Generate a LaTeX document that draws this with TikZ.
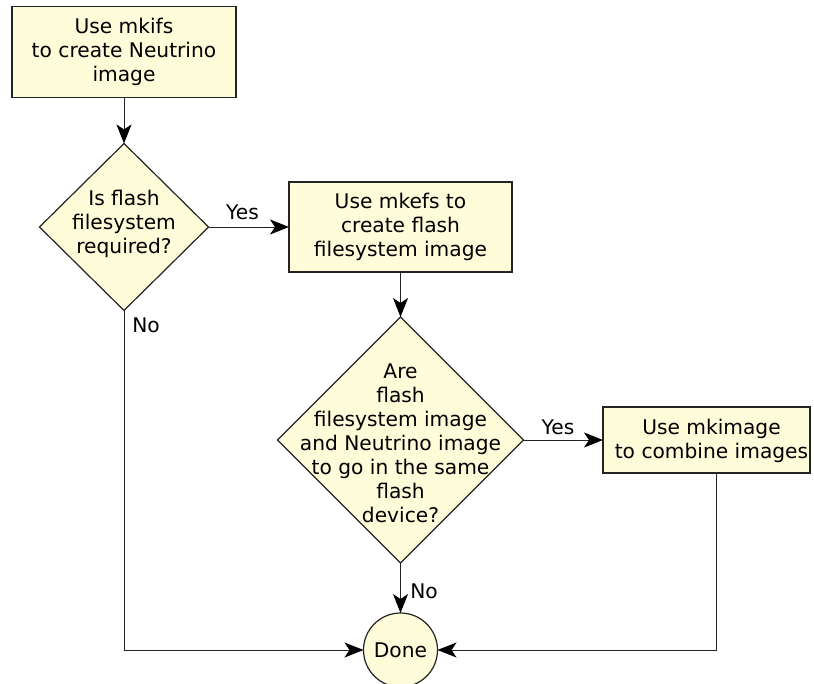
\documentclass[tikz,border=0pt]{standalone}
\usepackage{fontspec}
\setmainfont{DejaVu Sans}
\usetikzlibrary{shapes.geometric,arrows.meta}
\definecolor{boxfill}{RGB}{255,252,218}
\definecolor{edgec}{RGB}{35,35,35}
\begin{document}
\begin{tikzpicture}[x=1pt,y=-1pt,
  every node/.style={font=\fontsize{20.2}{24}\selectfont},
  proc/.style={draw=edgec, line width=1.6pt, fill=boxfill, inner sep=0pt, outer sep=0pt, align=center},
  dia/.style={diamond, draw=edgec, line width=1.2pt, fill=boxfill, inner sep=0pt, outer sep=0pt},
  term/.style={circle, draw=edgec, line width=1.2pt, fill=boxfill, inner sep=0pt, outer sep=0pt, minimum size=74pt},
  conn/.style={draw=edgec, line width=1pt, -{Stealth[length=19pt,width=15pt,inset=5pt,color=black]}},
  txt/.style={inner sep=0pt, align=center},
  lbl/.style={inner sep=0pt}
]
\useasboundingbox (0,0) rectangle (814,683);

% nodes
\node[proc, minimum width=224pt, minimum height=91pt] (b1) at (124,52) {Use mkifs\\to create Neutrino\\image};
\node[dia, minimum width=169pt, minimum height=167pt] (d1) at (124,227) {};
\node[txt] (t1) at (124,224) {Is flash\\filesystem\\required?};
\node[proc, minimum width=223pt, minimum height=90pt] (b2) at (400.5,227) {Use mkefs to\\create flash\\filesystem image};
\node[dia, minimum width=246pt, minimum height=246pt] (d2) at (400.5,440) {};
\node[txt] (t2) at (400.5,443) {Are\\flash\\filesystem image\\and Neutrino image\\to go in the same\\flash\\device?};
\node[proc, minimum width=207pt, minimum height=66pt] (b3) at (706.5,440) {};
\node[txt] (t3) at (711.5,441) {Use mkimage\\to combine images};
\node[term] (done) at (400.5,650) {Done};

% connectors
\draw[conn] (b1.south) -- (d1.north);
\draw[conn] (d1.east) -- (b2.west);
\draw[conn] (b2.south) -- (d2.north);
\draw[conn] (d2.east) -- (b3.west);
\draw[conn] (d2.south) -- (done.north);
\draw[conn] (d1.south) |- (done.west);
\coordinate (b3out) at (716,473);
\draw[conn] (b3out) |- (done.east);

% labels
\node[lbl] (y1) at (242.5,212) {Yes};
\node[lbl] (y2) at (558,427) {Yes};
\node[lbl] (n1) at (146,325) {No};
\node[lbl] (n2) at (424,591) {No};
\end{tikzpicture}
\end{document}
